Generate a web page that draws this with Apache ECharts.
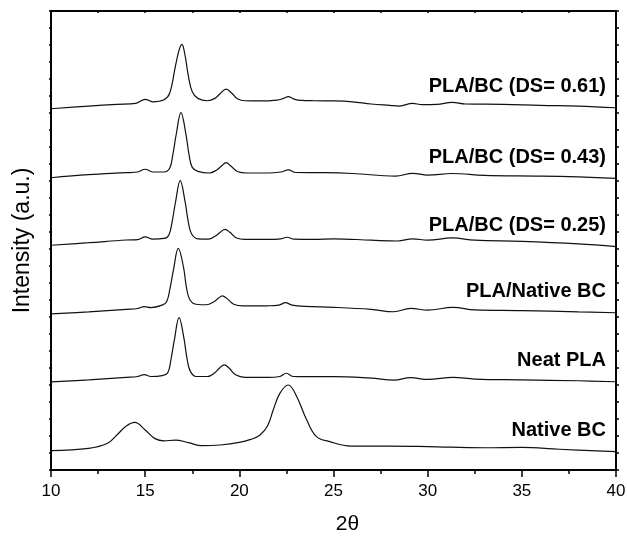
<!DOCTYPE html>
<html>
<head>
<meta charset="utf-8">
<script src="https://cdn.jsdelivr.net/npm/echarts@6/dist/echarts.min.js"></script>
<style>
	html, body { margin: 0; padding: 0; background: #fff; }
	#chart { width: 627px; height: 539px; }
	#diag { position: absolute; left: 0; top: 0; color: red; font: 10px sans-serif; width: 620px; }
</style>
</head>
<body>
<div id="chart"></div>
<div id="diag"></div>
<script>
// errors, if any, are written into #diag
var diag = [];
function note(s) {
	diag.push(s);
	document.getElementById('diag').textContent = diag.join(' | ');
}
window.addEventListener('error', function (e) { note('W:' + e.message); });

// curve names, top to bottom
var curveNames = ['PLA/BC (DS= 0.61)', 'PLA/BC (DS= 0.43)', 'PLA/BC (DS= 0.25)', 'PLA/Native BC', 'Neat PLA', 'Native BC'];

// [2theta, stacked intensity (a.u.)]
var ds061 = [
	[10, 21.25], [12, 21.41], [13.5, 21.51], [14.5, 21.57], [15.0, 21.8], [15.4, 21.66], [16.0, 21.78],
	[16.3, 22.16], [16.6, 23.72], [16.8, 24.7], [16.95, 25.04], [17.1, 24.5], [17.3, 23.14], [17.5, 22.25], [17.8, 21.86],
	[18.3, 21.72], [18.7, 21.86], [19.0, 22.16], [19.3, 22.41], [19.6, 22.16], [19.9, 21.84], [20.3, 21.72],
	[21.0, 21.71], [22.0, 21.76], [22.35, 21.86], [22.6, 21.96], [22.9, 21.82], [23.3, 21.74], [24, 21.72],
	[25, 21.71], [26, 21.66], [27, 21.53], [28, 21.45], [28.5, 21.41], [29.2, 21.57], [29.7, 21.49], [30.5, 21.51],
	[31.3, 21.63], [32, 21.53], [34, 21.51], [36, 21.45], [38, 21.41], [40, 21.31]
];
var ds043 = [
	[10, 17.19], [12, 17.37], [14, 17.49], [14.6, 17.53], [15.0, 17.69], [15.4, 17.53], [16.0, 17.53],
	[16.3, 17.75], [16.47, 18.55], [16.65, 19.75], [16.9, 21.02], [17.15, 19.85], [17.33, 18.55], [17.5, 17.8], [17.8, 17.57],
	[18.4, 17.47], [18.8, 17.65], [19.05, 17.88], [19.3, 18.08], [19.55, 17.88], [19.9, 17.56], [20.4, 17.47],
	[21.5, 17.47], [22.2, 17.53], [22.6, 17.65], [23.0, 17.5], [24.5, 17.49],
	[26, 17.44], [28.3, 17.29], [29.2, 17.45], [30, 17.35], [31.3, 17.44], [33, 17.33], [36, 17.29], [38, 17.24], [40, 17.16]
];
var ds025 = [
	[10, 13.22], [12, 13.37], [14, 13.53], [14.6, 13.55], [15.0, 13.71], [15.4, 13.58], [16.0, 13.62],
	[16.26, 13.83], [16.43, 14.6], [16.61, 15.75], [16.86, 17.02], [17.11, 15.85], [17.29, 14.6], [17.46, 13.9], [17.8, 13.6],
	[18.35, 13.58], [18.75, 13.78], [19.0, 14.0], [19.24, 14.16], [19.5, 13.98], [19.85, 13.65], [20.3, 13.57],
	[21.5, 13.57], [22.2, 13.6], [22.55, 13.69], [22.9, 13.58], [24, 13.57],
	[25, 13.6], [27, 13.52], [28.4, 13.47], [29.2, 13.6], [30, 13.52], [31.3, 13.65], [32.5, 13.52], [35, 13.45], [38, 13.3], [40, 13.14]
];
var plaNativeBC = [
	[10, 9.18], [12, 9.3], [14, 9.45], [14.6, 9.5], [14.95, 9.61], [15.3, 9.55], [15.9, 9.7],
	[16.14, 9.9], [16.32, 10.69], [16.5, 11.76], [16.76, 13.04], [17.03, 11.96], [17.2, 10.69], [17.38, 10.0], [17.7, 9.75],
	[18.25, 9.72], [18.65, 9.9], [18.88, 10.1], [19.1, 10.24], [19.35, 10.08], [19.7, 9.75], [20.2, 9.65],
	[21.5, 9.66], [22.1, 9.7], [22.45, 9.84], [22.8, 9.7], [23.5, 9.62],
	[25, 9.57], [27, 9.45], [28.2, 9.31], [29.1, 9.51], [30, 9.4], [31.35, 9.57], [32.5, 9.42], [35, 9.38], [38, 9.3], [40, 9.25]
];
var neatPLA = [
	[10, 5.18], [12, 5.3], [14, 5.45], [14.6, 5.5], [14.95, 5.61], [15.3, 5.5], [15.9, 5.55],
	[16.2, 5.72], [16.37, 6.5], [16.55, 7.65], [16.8, 8.96], [17.05, 7.8], [17.23, 6.5], [17.4, 5.8], [17.7, 5.5],
	[18.3, 5.5], [18.7, 5.72], [18.95, 6.0], [19.2, 6.18], [19.45, 6.0], [19.8, 5.6], [20.3, 5.45],
	[21.5, 5.45], [22.15, 5.5], [22.5, 5.69], [22.85, 5.5], [23.5, 5.49],
	[25, 5.49], [27, 5.4], [28.2, 5.29], [29.1, 5.43], [30, 5.33], [31.35, 5.45], [32.5, 5.35], [35, 5.3], [38, 5.25], [40, 5.19]
];
var nativeBC = [
	[10, 1.14], [12, 1.27], [13, 1.57], [13.5, 2.06], [14, 2.59], [14.45, 2.8], [15, 2.35], [15.5, 1.86],
	[16, 1.71], [16.6, 1.76], [17.3, 1.61], [18, 1.43], [19, 1.47], [20, 1.62], [20.6, 1.8], [21.1, 2.06],
	[21.5, 2.6], [21.8, 3.53], [22.15, 4.51], [22.6, 5.0], [23.05, 4.31], [23.58, 2.94], [24.1, 1.96], [24.8, 1.67],
	[25.9, 1.41], [28, 1.41], [30, 1.38], [33, 1.31], [35, 1.33], [37, 1.22], [40, 1.08]
];

var curves = [ds061, ds043, ds025, plaNativeBC, neatPLA, nativeBC];

var font = 'Liberation Sans, Arial, sans-serif';
var black = '#000';

function frameLine() {
	return { show: true, onZero: false, lineStyle: { color: black, width: 1.5 } };
}
function noText() { return ''; }

var chart = echarts.init(document.getElementById('chart'));

// odd curves sit on the top/right axes (same scales) so those axes are drawn too
var series = curves.map(function (d, i) {
	return {
		name: curveNames[i],
		type: 'line',
		data: d,
		xAxisIndex: i % 2,
		yAxisIndex: i % 2,
		symbol: 'none',
		smooth: 0.4,
		lineStyle: { color: '#111', width: 1.2 },
		endLabel: {
			show: true,
			formatter: '{a}',
			fontFamily: font,
			fontWeight: 'bold',
			fontSize: 20,
			color: black,
			align: 'right',
			distance: 0,
			offset: [-10, -21]
		}
	};
});

try {
	chart.setOption({
		animation: false,
		grid: { left: 51, right: 11, top: 11, bottom: 69, outerBoundsMode: 'none',
			show: true, borderColor: black, borderWidth: 1.5 },
		xAxis: [{
			type: 'value', position: 'bottom', min: 10, max: 40, interval: 5,
			name: '2θ', nameLocation: 'middle', nameGap: 44,
			nameTextStyle: { fontFamily: font, fontSize: 21, color: black, padding: [0, 0, 0, 28] },
			axisLine: frameLine(),
			axisTick: { show: true, length: 7, lineStyle: { color: black, width: 1.5 } },
			minorTick: { show: true, splitNumber: 2, length: 4, lineStyle: { color: black, width: 1.5 } },
			axisLabel: { fontFamily: font, fontSize: 17, color: black, margin: 13 },
			splitLine: { show: false }
		}, {
			type: 'value', position: 'top', min: 10, max: 40, interval: 2.5,
			axisLine: frameLine(),
			axisTick: { show: true, inside: true, length: 2, lineStyle: { color: black, width: 1.5 } },
			axisLabel: { show: true, formatter: noText },
			splitLine: { show: false }
		}],
		yAxis: [{
			type: 'value', position: 'left', min: 0, max: 27, interval: 1,
			name: 'Intensity (a.u.)', nameLocation: 'middle', nameGap: 17, nameRotate: 90,
			nameTextStyle: { fontFamily: font, fontSize: 23, color: black },
			axisLine: frameLine(),
			axisTick: { show: true, length: 2, lineStyle: { color: black, width: 1.5 } },
			axisLabel: { show: false },
			splitLine: { show: false }
		}, {
			type: 'value', position: 'right', min: 0, max: 27, interval: 1,
			axisLine: frameLine(),
			axisTick: { show: true, length: 3, lineStyle: { color: black, width: 1.5 } },
			axisLabel: { show: true, formatter: noText },
			splitLine: { show: false }
		}],
		series: series
	});
} catch (e) { note('A:' + e.message); }

// plot frame straight onto the zrender layer, placed from the axis scales
try {
	var p0 = chart.convertToPixel({ gridIndex: 0 }, [10, 0]);
	var p1 = chart.convertToPixel({ gridIndex: 0 }, [40, 27]);
	chart.getZr().add(new echarts.graphic.Rect({
		silent: true,
		z: 100,
		shape: { x: p0[0], y: p1[1], width: p1[0] - p0[0], height: p0[1] - p1[1] },
		style: { fill: 'none', stroke: black, lineWidth: 1.5 }
	}));
	chart.getZr().refreshImmediately();
} catch (e) { note('B:' + e.message); }
</script>
</body>
</html>
